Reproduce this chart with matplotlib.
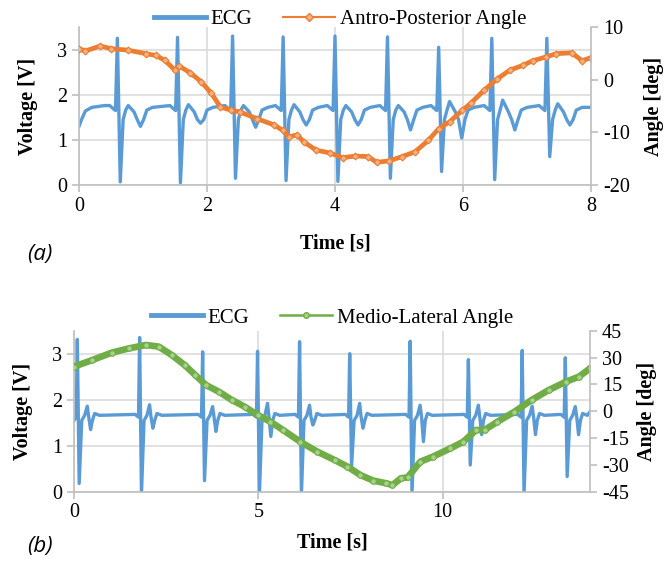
import numpy as np
import matplotlib.pyplot as plt
from matplotlib.lines import Line2D

plt.rcParams['font.family'] = ['Liberation Serif', 'DejaVu Serif']
plt.rcParams['axes.unicode_minus'] = False

# ---- panel (a): ECG beats ----
a_r_time = [0.60, 1.54, 2.40, 3.19, 4.00, 4.82, 5.62, 6.45, 7.31]
a_r_peak = [3.25, 3.27, 3.30, 3.28, 3.30, 3.28, 3.05, 3.25, 3.25]
a_s_low = [0.07, 0.05, 0.15, 0.10, 0.08, 0.15, 0.30, 0.12, 0.63]
a_hump = [1.76, 1.78, 1.76, 1.78, 1.76, 1.76, 1.85, 1.88, 1.80]
a_t_dip = [1.30, 1.37, 1.28, 1.33, 1.33, 1.22, 1.04, 1.22, 1.33]
a_start = [(0.0, 1.30), (0.04, 1.45), (0.10, 1.64), (0.20, 1.72), (0.40, 1.76)]
a_end = [(8.0, 1.72)]

# antro-posterior angle [deg]
a_ang_t = [0.0, 0.1, 0.33, 0.5, 0.77, 1.04, 1.2, 1.34, 1.5, 1.57, 1.74, 1.91, 2.07,
           2.21, 2.38, 2.51, 2.78, 3.05, 3.18, 3.28, 3.41, 3.51, 3.71, 3.92, 4.12,
           4.32, 4.52, 4.65, 4.85, 5.05, 5.25, 5.46, 5.62, 5.79, 5.99, 6.12, 6.33,
           6.53, 6.73, 6.93, 7.09, 7.29, 7.46, 7.70, 7.86, 8.0]
a_ang = [5.9, 5.45, 6.4, 5.9, 5.6, 4.95, 4.6, 3.7, 1.8, 2.55, 1.3, -0.4, -2.6,
         -5.2, -5.8, -6.1, -7.4, -8.6, -9.6, -10.8, -10.5, -11.8, -13.4, -13.9, -14.8,
         -14.5, -14.6, -15.7, -15.4, -14.6, -13.7, -11.5, -9.3, -8.0, -5.8, -4.5, -2.0,
         0.1, 1.8, 2.7, 3.6, 4.3, 4.95, 5.1, 3.6, 4.2]

# ---- panel (b) ----
b_r_time = [0.09, 1.78, 3.49, 4.98, 6.12, 7.48, 9.12, 10.70, 12.16, 13.33]
b_r_peak = [3.31, 3.35, 3.04, 3.05, 3.26, 3.00, 3.27, 2.87, 3.07, 2.91]
b_s_low = [0.18, -0.05, 0.24, -0.05, -0.05, 0.54, -0.05, 0.58, -0.05, 0.33]
b_hump = [1.86, 1.89, 1.85, 1.92, 1.88, 1.92, 1.88, 1.88, 1.86, 1.85]
b_t_dip = [1.35, 1.38, 1.31, 1.20, 1.45, 1.38, 1.09, 1.24, 1.24, 1.24]
b_start = [(0.0, 1.55)]
b_end = [(14.0, 1.74)]

b_ang_t = [0.0, 0.5, 1.02, 1.49, 1.95, 2.3, 2.65, 3.0, 3.29, 3.58, 3.93, 4.28, 4.63,
           4.98, 5.33, 5.67, 6.14, 6.6, 7.07, 7.42, 7.77, 8.12, 8.47, 8.64, 8.87, 9.05,
           9.4, 9.74, 10.21, 10.56, 10.91, 11.14, 11.49, 11.95, 12.42, 12.88, 13.35,
           13.7, 14.0]
b_ang = [24.9, 28.6, 32.7, 35.1, 37.0, 36.1, 31.4, 25.8, 20.2, 14.6, 10.9, 6.3, 2.5,
         -2.1, -5.9, -10.5, -17.1, -22.6, -27.3, -31.0, -35.7, -38.8, -40.3, -41.3, -37.5,
         -37.0, -28.2, -25.4, -20.8, -17.1, -10.5, -10.5, -5.9, -0.3, 6.3, 11.8, 16.5,
         19.3, 23.9]

# beat shape: offsets from R peak
a_offsets = [-0.12, -0.03, 0.0, 0.045, 0.09, 0.13, 0.17, 0.26, 0.31, 0.36, 0.41, 0.46, 0.55]
b_offsets = [-0.12, -0.03, 0.0, 0.05, 0.12, 0.20, 0.27, 0.31, 0.36, 0.41, 0.47, 0.60]


def ecg_points(start, end, r_time, r_peak, s_low, hump, dip, offsets, base):
    t, v = [p[0] for p in start], [p[1] for p in start]
    for r, pk, s, h, d in zip(r_time, r_peak, s_low, hump, dip):
        if offsets is a_offsets:
            vals = [base + 0.04, base - 0.07, pk, s, 1.45, 1.66, h, 1.62, 1.45, d,
                    1.45, 1.66, base]
        else:
            vals = [base + 0.02, base - 0.04, pk, s, 1.55, 1.66, h, 1.62, d, 1.55,
                    1.70, base]
        for o, val in zip(offsets, vals):
            if r + o > t[-1]:
                t.append(r + o)
                v.append(val)
    t += [p[0] for p in end]
    v += [p[1] for p in end]
    return t, v


grey = '#BFBFBF'
blue = '#5B9BD5'
orange = '#ED7D31'
green = '#70AD47'


def style(ax, ax2):
    ax.spines['top'].set_visible(False)
    ax.spines['right'].set_visible(False)
    ax2.spines['top'].set_visible(False)
    ax2.spines['left'].set_visible(False)
    ax2.spines['bottom'].set_visible(False)
    for s in ['left', 'bottom']:
        ax.spines[s].set_color(grey)
        ax.spines[s].set_linewidth(1.2)
    ax2.spines['right'].set_color(grey)
    ax2.spines['right'].set_linewidth(1.2)
    ax.grid(True, color='#D9D9D9', lw=1.1)
    ax.set_axisbelow(True)
    ax.tick_params(colors=grey, labelcolor='black', labelsize=14.5, length=5, width=1.2)
    ax2.tick_params(colors=grey, labelcolor='black', labelsize=14.5, length=5, width=1.2)


fig = plt.figure(figsize=(6.71, 5.62), dpi=100)

# (a)
ax = fig.add_axes([0.1177, 0.6708, 0.7631, 0.2811])
ax2 = ax.twinx()
t, v = ecg_points(a_start, a_end, a_r_time, a_r_peak, a_s_low, a_hump, a_t_dip, a_offsets, 1.72)
ax.plot(t, v, color=blue, lw=2.4)
ax2.plot(a_ang_t, a_ang, color=orange, lw=3.4, marker='D', ms=3.5,
         mfc='#F4B183', mec=orange, mew=0.8)
ax.set_xlim(0, 8)
ax.set_ylim(0, 3.5)
ax.set_xticks([0, 2, 4, 6, 8])
ax.set_yticks([0, 1, 2, 3])
ax2.set_ylim(-20, 10)
ax2.set_yticks([-20, -10, 0, 10])
style(ax, ax2)
ax.set_xlabel('Time [s]', fontsize=14.5, fontweight='bold', labelpad=13)
ax.set_ylabel('Voltage [V]', fontsize=14.5, fontweight='bold', labelpad=14)
ax2.set_ylabel('Angle [deg]', fontsize=14.5, fontweight='bold', labelpad=10)
h1 = Line2D([], [], color=blue, lw=3.5)
h2 = Line2D([], [], color=orange, lw=1.5, marker='D', ms=4, mfc='#F4B183', mec=orange,
            markevery=[1])
ax2.legend([h1, h2], ['ECG', 'Antro-Posterior Angle'], loc='center', ncol=2,
           bbox_to_anchor=(0.51, 1.05), frameon=False, fontsize=15, handlelength=2.5,
           columnspacing=1.5, handletextpad=0.2)
fig.text(0.04, 0.548, '(a)', fontsize=16, style='italic', family='Open Sans', va='center')

# (b)
bx = fig.add_axes([0.1103, 0.1251, 0.769, 0.2865])
bx2 = bx.twinx()
t, v = ecg_points(b_start, b_end, b_r_time, b_r_peak, b_s_low, b_hump, b_t_dip, b_offsets, 1.66)
bx.plot(t, v, color=blue, lw=2.4)
bx2.plot(b_ang_t, b_ang, color=green, lw=4.8, marker='o', ms=4,
         mfc='#A9D18E', mec=green, mew=0.8)
bx.set_xlim(0, 14)
bx.set_ylim(0, 3.5)
bx.set_xticks([0, 5, 10])
bx.set_yticks([0, 1, 2, 3])
bx2.set_ylim(-45, 45)
bx2.set_yticks([-45, -30, -15, 0, 15, 30, 45])
style(bx, bx2)
bx.set_xlabel('Time [s]', fontsize=14.5, fontweight='bold', labelpad=7)
bx.set_ylabel('Voltage [V]', fontsize=14.5, fontweight='bold', labelpad=14)
bx2.set_ylabel('Angle [deg]', fontsize=14.5, fontweight='bold', labelpad=6)
g1 = Line2D([], [], color=blue, lw=3.5)
g2 = Line2D([], [], color=green, lw=1.8, marker='o', ms=4, mfc='#A9D18E', mec=green,
            markevery=[1])
bx2.legend([g1, g2], ['ECG', 'Medio-Lateral Angle'], loc='center', ncol=2,
           bbox_to_anchor=(0.5, 1.08), frameon=False, fontsize=15, handlelength=2.5,
           columnspacing=1.5, handletextpad=0.2)
fig.text(0.04, 0.027, '(b)', fontsize=16, style='italic', family='Open Sans', va='center')

fig.savefig('out.png', dpi=100)
